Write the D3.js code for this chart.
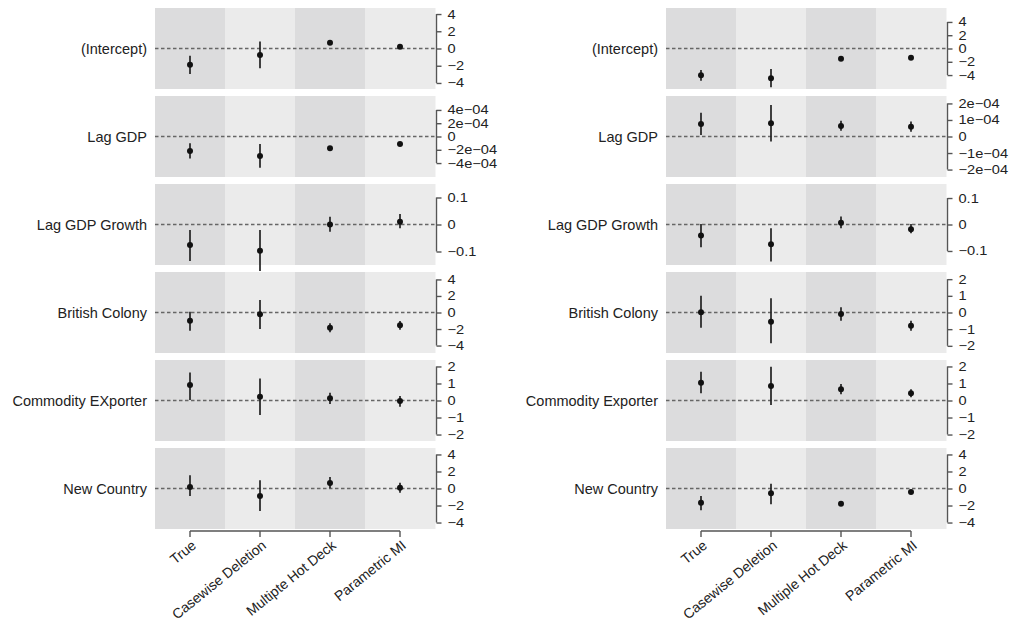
<!DOCTYPE html>
<html>
<head>
<meta charset="utf-8">
<script src="https://cdn.jsdelivr.net/npm/d3@7"></script>
<style>
  body { margin: 0; background: #fff; }
  text { font-family: "Liberation Sans", Arial, sans-serif; fill: #222; }
</style>
</head>
<body>
<svg id="chart" width="1016" height="626"></svg>
<script>
// Methods on the x axis.
var methodsLeft = ['True', 'Casewise Deletion', 'Multipte Hot Deck', 'Parametric MI'];
var methodsRight = ['True', 'Casewise Deletion', 'Multiple Hot Deck', 'Parametric MI'];

// Variables (one panel row each).
var varsLeft = ['(Intercept)', 'Lag GDP', 'Lag GDP Growth', 'British Colony',
  'Commodity EXporter', 'New Country'];
var varsRight = ['(Intercept)', 'Lag GDP', 'Lag GDP Growth', 'British Colony',
  'Commodity Exporter', 'New Country'];

// Point estimates, rows = variables, columns = methods.
var leftEst = [
  [-1.9, -0.76, 0.67, 0.2],
  [-2.18e-4, -2.94e-4, -1.78e-4, -1.13e-4],
  [-0.076, -0.097, 0.0, 0.01],
  [-0.99, -0.22, -1.84, -1.55],
  [0.91, 0.22, 0.13, -0.03],
  [0.18, -0.88, 0.65, 0.1]
];
var leftLo = [
  [-2.97, -2.3, 0.5, 0.05],
  [-3.3e-4, -4.7e-4, -1.9e-4, -1.25e-4],
  [-0.135, -0.172, -0.027, -0.014],
  [-2.2, -2.0, -2.4, -2.1],
  [0.03, -0.85, -0.2, -0.36],
  [-0.88, -2.65, 0.02, -0.5]
];
var leftHi = [
  [-0.84, 0.8, 0.85, 0.35],
  [-1.03e-4, -1.13e-4, -1.66e-4, -1.01e-4],
  [-0.02, -0.02, 0.029, 0.039],
  [0.1, 1.5, -1.3, -1.03],
  [1.64, 1.3, 0.46, 0.26],
  [1.55, 0.96, 1.35, 0.68]
];

var rightEst = [
  [-4.04, -4.49, -1.53, -1.38],
  [0.76e-4, 0.8e-4, 0.64e-4, 0.59e-4],
  [-0.042, -0.075, 0.007, -0.018],
  [0.02, -0.55, -0.09, -0.79],
  [1.05, 0.85, 0.66, 0.42],
  [-1.67, -0.56, -1.79, -0.41]
];
var rightLo = [
  [-4.85, -5.84, -1.7, -1.55],
  [0.09e-4, -0.31e-4, 0.35e-4, 0.29e-4],
  [-0.086, -0.14, -0.014, -0.033],
  [-0.91, -1.84, -0.49, -1.09],
  [0.42, -0.26, 0.36, 0.19],
  [-2.56, -1.86, -1.95, -0.55]
];
var rightHi = [
  [-3.24, -3.09, -1.36, -1.21],
  [1.44e-4, 1.91e-4, 0.96e-4, 0.9e-4],
  [0.002, -0.014, 0.03, 0.002],
  [1.0, 0.85, 0.31, -0.49],
  [1.69, 1.99, 0.97, 0.66],
  [-0.88, 0.56, -1.63, -0.27]
];

// Half extents of each panel's y domain.
var leftDomains = [4.7, 6.1e-4, 0.15, 4.9, 2.38, 4.76];
var rightDomains = [6.1, 2.45e-4, 0.153, 2.43, 2.38, 4.76];

// Tick values and tick labels per panel.
var leftTicks = [
  [4, 2, 0, -2, -4],
  [4e-4, 2e-4, 0, -2e-4, -4e-4],
  [0.1, 0, -0.1],
  [4, 2, 0, -2, -4],
  [2, 1, 0, -1, -2],
  [4, 2, 0, -2, -4]
];
var leftTickLabels = [
  ['4', '2', '0', '\u22122', '\u22124'],
  ['4e\u221204', '2e\u221204', '0', '\u22122e\u221204', '\u22124e\u221204'],
  ['0.1', '0', '\u22120.1'],
  ['4', '2', '0', '\u22122', '\u22124'],
  ['2', '1', '0', '\u22121', '\u22122'],
  ['4', '2', '0', '\u22122', '\u22124']
];
var rightTicks = [
  [4, 2, 0, -2, -4],
  [2e-4, 1e-4, 0, -1e-4, -2e-4],
  [0.1, 0, -0.1],
  [2, 1, 0, -1, -2],
  [2, 1, 0, -1, -2],
  [4, 2, 0, -2, -4]
];
var rightTickLabels = [
  ['4', '2', '0', '\u22122', '\u22124'],
  ['2e\u221204', '1e\u221204', '0', '\u22121e\u221204', '\u22122e\u221204'],
  ['0.1', '0', '\u22120.1'],
  ['2', '1', '0', '\u22121', '\u22122'],
  ['2', '1', '0', '\u22121', '\u22122'],
  ['4', '2', '0', '\u22122', '\u22124']
];

var svg = d3.select('#chart');

var ROW_TOP = 8;
var ROW_STEP = 88;
var ROW_H = 81;
var PLOT_W = 280;
var COL_FILL = ['#dcdcdd', '#ebebeb'];
var TICK_STRETCH = 1.17;

drawFacet(155, methodsLeft, varsLeft, leftEst, leftLo, leftHi,
    leftDomains, leftTicks, leftTickLabels);
drawFacet(666, methodsRight, varsRight, rightEst, rightLo, rightHi,
    rightDomains, rightTicks, rightTickLabels);

/**
 * Draws one column of coefficient panels.
 */
function drawFacet(x0, methods, vars, est, lo, hi, domains, ticks, tickLabels) {
  var g = svg.append('g');
  var x = d3.scaleBand().domain(methods).range([x0, x0 + PLOT_W]);
  var bw = x.bandwidth();

  vars.forEach(function(name, i) {
    var top = ROW_TOP + i * ROW_STEP;
    var y = d3.scaleLinear().domain([-domains[i], domains[i]])
        .range([top + ROW_H, top]);
    var row = g.append('g');

    row.selectAll('rect').data(methods).enter().append('rect')
        .attr('x', function(d) { return x(d); })
        .attr('y', top)
        .attr('width', bw + 0.5)
        .attr('height', ROW_H)
        .attr('fill', function(d, j) { return COL_FILL[j % 2]; });

    // Zero reference line.
    row.append('line')
        .attr('x1', x0).attr('x2', x0 + PLOT_W)
        .attr('y1', y(0)).attr('y2', y(0))
        .attr('stroke', '#666')
        .attr('stroke-width', 1.5)
        .attr('stroke-dasharray', '3.5,2.5');

    // Intervals.
    row.selectAll('.ci').data(methods).enter().append('line')
        .attr('class', 'ci')
        .attr('x1', function(d) { return x(d) + bw / 2; })
        .attr('x2', function(d) { return x(d) + bw / 2; })
        .attr('y1', function(d, j) { return y(lo[i][j]); })
        .attr('y2', function(d, j) { return y(hi[i][j]); })
        .attr('stroke', '#222')
        .attr('stroke-width', 1.7);

    row.selectAll('.pt').data(methods).enter().append('circle')
        .attr('class', 'pt')
        .attr('cx', function(d) { return x(d) + bw / 2; })
        .attr('cy', function(d, j) { return y(est[i][j]); })
        .attr('r', 3)
        .attr('fill', '#111');

    // Right axis, R style bracket from first to last tick.
    var axisX = x0 + PLOT_W + 1.5;
    var ax = row.append('g')
        .attr('transform', 'translate(' + axisX + ',0)')
        .call(d3.axisRight(y)
            .tickValues(ticks[i])
            .tickSize(5)
            .tickPadding(5)
            .tickFormat(function(d, k) { return tickLabels[i][k]; }));
    ax.select('.domain').remove();
    ax.selectAll('.tick line').attr('stroke', '#555').attr('stroke-width', 1.4);
    // Labels in the source are wide and short: stretch them sideways.
    ax.selectAll('.tick text')
        .attr('x', 11 / TICK_STRETCH)
        .attr('transform', 'scale(' + TICK_STRETCH + ',1)')
        .style('font-size', '12.5px')
        .style('font-family', '"Liberation Sans", Arial, sans-serif')
        .attr('fill', '#222');
    var tExt = d3.extent(ticks[i]);
    ax.append('line')
        .attr('x1', 0).attr('x2', 0)
        .attr('y1', y(tExt[0])).attr('y2', y(tExt[1]))
        .attr('stroke', '#555').attr('stroke-width', 1.4);

    // Row label.
    row.append('text')
        .attr('x', x0 - 8)
        .attr('y', y(0))
        .attr('dy', '0.35em')
        .attr('text-anchor', 'end')
        .style('font-size', '14.5px')
        .text(name);
  });

  // Bottom axis.
  var axisY = ROW_TOP + 5 * ROW_STEP + ROW_H + 2;
  var bx = g.append('g')
      .attr('transform', 'translate(' + (bw / 2) + ',' + axisY + ')')
      .call(d3.axisBottom(x).tickSize(6).tickFormat(''));
  bx.select('.domain').remove();
  bx.selectAll('.tick line')
      .attr('stroke', '#555').attr('stroke-width', 1.4);
  bx.selectAll('.tick').attr('transform', function(d) {
    return 'translate(' + x(d) + ',0)';
  });
  bx.append('line')
      .attr('x1', x(methods[0])).attr('x2', x(methods[methods.length - 1]))
      .attr('y1', 0).attr('y2', 0)
      .attr('stroke', '#555').attr('stroke-width', 1.4);

  g.selectAll('.xlab').data(methods).enter().append('text')
      .attr('class', 'xlab')
      .attr('text-anchor', 'end')
      .attr('transform', function(d) {
        return 'translate(' + (x(d) + bw / 2 + 7) + ',' + (axisY + 16) +
            ') rotate(-39)';
      })
      .style('font-size', '14px')
      .text(function(d) { return d; });
}
</script>
</body>
</html>
